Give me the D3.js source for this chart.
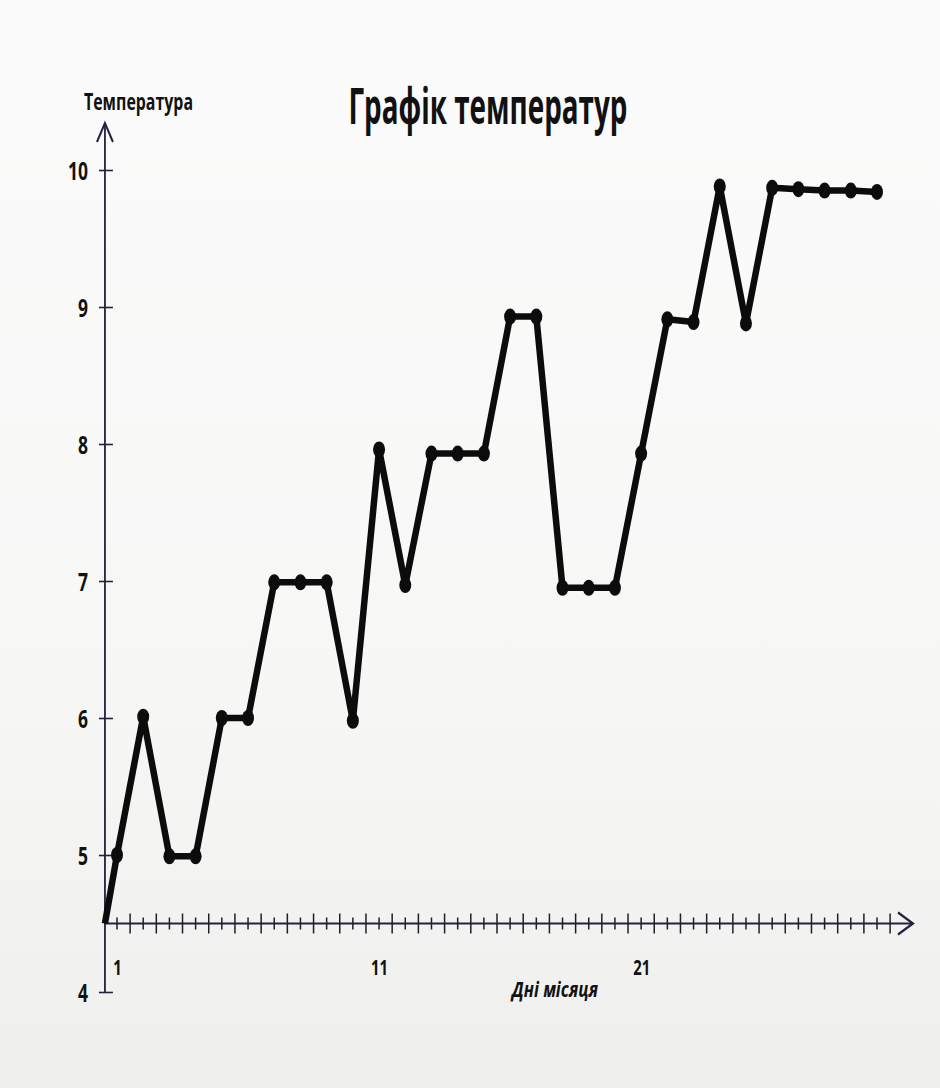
<!DOCTYPE html>
<html>
<head>
<meta charset="utf-8">
<script src="https://cdn.jsdelivr.net/npm/d3@7"></script>
<style>
  html, body { margin: 0; padding: 0; background: #f7f7f6; }
  svg { display: block; }
  .lbl { font-family: "Liberation Sans Narrow", "Open Sans", "DejaVu Sans Condensed", sans-serif; font-weight: bold; fill: #111; }
</style>
</head>
<body>
<svg id="chart" width="940" height="1088"></svg>
<script>
// Графік температур
const days = d3.range(1, 31);
const temps = [5.00, 6.01, 4.99, 4.99, 6.00, 6.00, 6.99, 6.99, 6.99, 5.98,
               7.96, 6.97, 7.93, 7.93, 7.93, 8.93, 8.93, 6.95, 6.95, 6.95,
               7.93, 8.91, 8.89, 9.88, 8.88, 9.87, 9.86, 9.85, 9.85, 9.84];
const yTicks = [4, 5, 6, 7, 8, 9, 10];
const xLabels = [1, 11, 21];
const xTicks = d3.range(1, 30.51, 0.5);

const svg = d3.select("#chart");

// фон (фото сторінки)
const defs = svg.append("defs");
const grad = defs.append("linearGradient").attr("id", "bg")
    .attr("x1", 0).attr("y1", 0).attr("x2", 0).attr("y2", 1);
grad.append("stop").attr("offset", "0%").attr("stop-color", "#fbfbfb");
grad.append("stop").attr("offset", "60%").attr("stop-color", "#f7f7f6");
grad.append("stop").attr("offset", "100%").attr("stop-color", "#efefee");
svg.append("rect").attr("width", 940).attr("height", 1088).attr("fill", "url(#bg)");

const x = d3.scaleLinear().domain([1, 30]).range([117, 877]);
const y = d3.scaleLinear().domain([4, 10]).range([992, 170]);

const x0 = 0.54;      // початок осі днів
const yAxisAt = 4.5;  // вісь днів перетинає на 4.5
const axisColor = "#23213f";

// Вісь Y
const gy = svg.append("g")
    .attr("transform", `translate(${x(x0)},0)`)
    .call(d3.axisLeft(y).tickValues(yTicks).tickFormat(d3.format("d")).tickSize(0).tickPadding(17));
gy.select(".domain").remove();
gy.selectAll(".tick line").remove();
gy.selectAll(".tick").append("line")
    .attr("x1", -6).attr("x2", 8)
    .attr("stroke", axisColor).attr("stroke-width", 1.6);
gy.selectAll(".tick text")
    .attr("class", "lbl")
    .attr("font-size", 25)
    .attr("dy", "0.36em")
    .attr("textLength", d => String(d).length * 10)
    .attr("lengthAdjust", "spacingAndGlyphs");

svg.append("line")
    .attr("x1", x(x0)).attr("x2", x(x0))
    .attr("y1", y(4)).attr("y2", 124)
    .attr("stroke", axisColor).attr("stroke-width", 1.8);
svg.append("path")
    .attr("d", `M${x(x0) - 8},${142} L${x(x0)},${123} L${x(x0) + 8},${142}`)
    .attr("fill", "none").attr("stroke", axisColor).attr("stroke-width", 2);

// Вісь X
const axY = y(yAxisAt);
svg.append("line")
    .attr("x1", x(x0)).attr("x2", 912)
    .attr("y1", axY).attr("y2", axY)
    .attr("stroke", axisColor).attr("stroke-width", 2);
svg.append("path")
    .attr("d", `M${898},${axY - 11} L${913},${axY} L${898},${axY + 11}`)
    .attr("fill", "none").attr("stroke", axisColor).attr("stroke-width", 2.2);

svg.append("g").selectAll("line")
    .data(xTicks)
    .join("line")
    .attr("x1", d => x(d)).attr("x2", d => x(d))
    .attr("y1", d => axY - (d % 1 ? 10 : 6))
    .attr("y2", d => axY + (d % 1 ? 10 : 6))
    .attr("stroke", "#1e1e2a").attr("stroke-width", 1.5);

const gx = svg.append("g")
    .attr("transform", `translate(0,${axY})`)
    .call(d3.axisBottom(x).tickValues(xLabels).tickSize(0).tickPadding(37));
gx.select(".domain").remove();
gx.selectAll(".tick text")
    .attr("class", "lbl")
    .attr("font-size", 21)
    .attr("textLength", d => String(d).length * 8.5)
    .attr("lengthAdjust", "spacingAndGlyphs");

// Підписи
svg.append("text")
    .attr("class", "lbl")
    .attr("x", 488).attr("y", 124)
    .attr("text-anchor", "middle")
    .attr("font-size", 50)
    .attr("textLength", 279).attr("lengthAdjust", "spacingAndGlyphs")
    .text("Графік температур");

svg.append("text")
    .attr("class", "lbl")
    .attr("x", 84).attr("y", 110)
    .attr("font-size", 23)
    .attr("textLength", 109).attr("lengthAdjust", "spacingAndGlyphs")
    .text("Температура");

svg.append("text")
    .attr("class", "lbl")
    .attr("x", 512).attr("y", 997)
    .attr("font-size", 21)
    .attr("font-style", "italic")
    .attr("textLength", 86).attr("lengthAdjust", "spacingAndGlyphs")
    .text("Дні місяця");

// Лінія температур
const pts = days.map((d, i) => [d, temps[i]]);
const line = d3.line().x(d => x(d[0])).y(d => y(d[1]));
svg.append("path")
    .datum([[x0, yAxisAt]].concat(pts))
    .attr("d", line)
    .attr("fill", "none")
    .attr("stroke", "#0c0c0c")
    .attr("stroke-width", 6.5)
    .attr("stroke-linejoin", "round");

svg.append("g").selectAll("ellipse")
    .data(pts)
    .join("ellipse")
    .attr("cx", d => x(d[0]))
    .attr("cy", d => y(d[1]))
    .attr("rx", 6)
    .attr("ry", 8)
    .attr("fill", "#0c0c0c");
</script>
</body>
</html>
